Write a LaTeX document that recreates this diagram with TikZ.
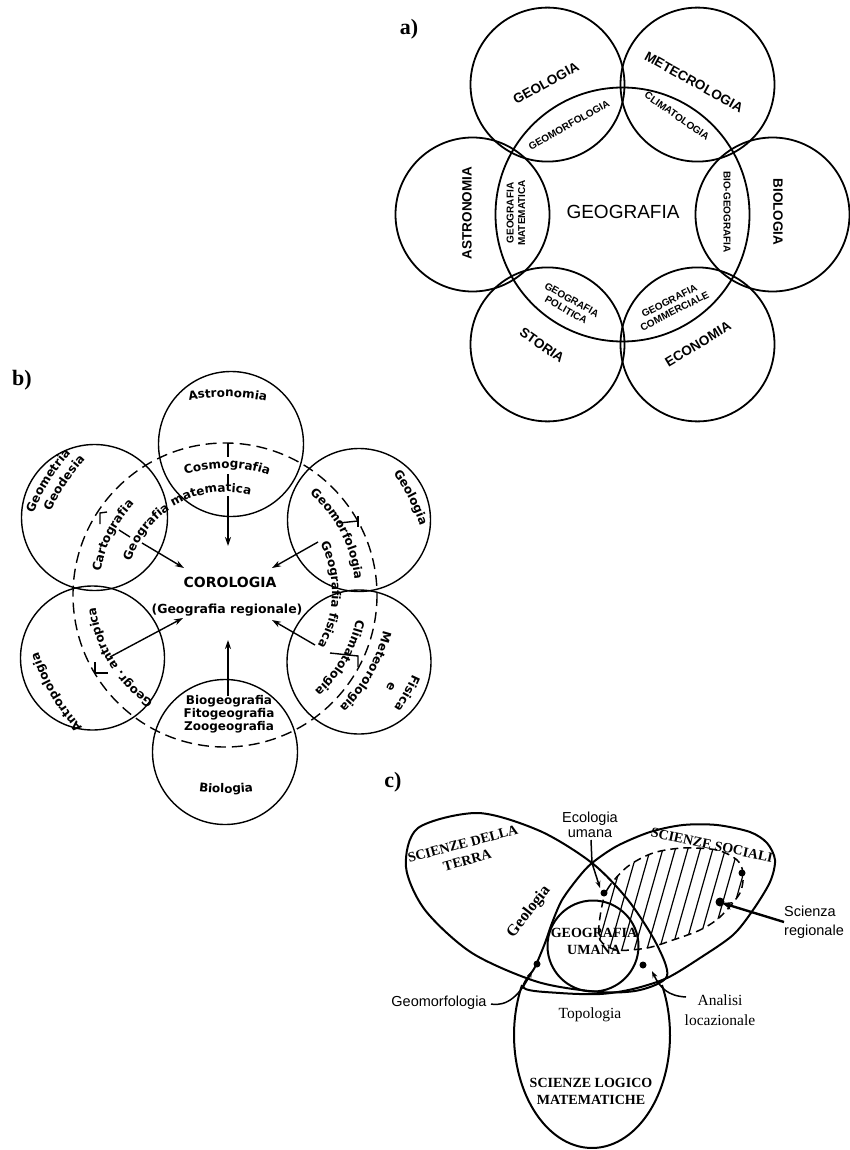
\documentclass[tikz,border=0pt]{standalone}
\usepackage{fontspec}
\setmainfont{Liberation Serif}
\newfontfamily\arialf{Liberation Sans}
\newfontfamily\dejaf{DejaVu Sans}
\newfontfamily\timesf{Liberation Serif}
\usetikzlibrary{decorations.text,arrows.meta,calc}
\newcommand\fsz[1]{\fontsize{#1}{#1}\selectfont}
% clockwise label (reads clockwise, tops outward): center, radius, mid angle, half span, font, text
\newcommand\cwlabel[6]{%
  \path[decorate,decoration={text along path,text align=center,text={|#5|#6}}]
    ($(#1)+({#3-#4}:#2)$) arc[start angle={#3-#4}, end angle={#3+#4}, radius=#2];}
\newcommand\ccwlabel[6]{%
  \path[decorate,decoration={text along path,text align=center,text={|#5|#6}}]
    ($(#1)+({#3+#4}:#2)$) arc[start angle={#3+#4}, end angle={#3-#4}, radius=#2];}
\tikzset{
  acirc/.style={line width=1.8pt},
  aout/.style={font=\arialf\bfseries\fsz{13.5}, inner sep=0},
  ain/.style={font=\arialf\bfseries\fontsize{10}{11.5}\selectfont, inner sep=0, align=center},
  amain/.style={font=\arialf\fsz{19}, inner sep=0},
  panel/.style={font=\timesf\bfseries\fsz{22}, inner sep=0},
  bcirc/.style={line width=1.4pt},
  bdash/.style={line width=1.4pt, dash pattern=on 11pt off 6pt},
  bline/.style={line width=1.4pt},
  barr/.style={line width=1.4pt, -{Stealth[length=9pt,width=6pt]}},
  btxt/.style={font=\dejaf\bfseries\fsz{12}, inner sep=0},
  cline/.style={line width=2pt},
  csc/.style={font=\timesf\bfseries\fontsize{14}{17}\selectfont, inner sep=0, align=center},
  cser/.style={font=\timesf\fontsize{15.5}{20}\selectfont, inner sep=0, align=center},
  csans/.style={font=\arialf\fontsize{14.5}{15}\selectfont, inner sep=0},
  clead/.style={line width=1.5pt, -{Stealth[length=7pt,width=5pt]}},
}
\begin{document}
\begin{tikzpicture}[x=1pt,y=-1pt]
\fill[white] (0,0) rectangle (849,1150);
\useasboundingbox (0,0) rectangle (849,1150);

%================ a) ================
\node[panel] (la) at (409,29) {a)};
\coordinate (A0) at (622.5,214.5);
\draw[acirc] (A0) circle[radius=127];
\foreach \ang in {-120,-60,0,60,120,180}
  \draw[acirc] ($(A0)+(\ang:150)$) circle[radius=77];
\node[amain] (ageo) at (623,212) {GEOGRAFIA};
\node[aout, rotate=29] (ageol) at (546,83) {GEOLOGIA};
\node[aout, rotate=-29] (amet) at (694,82) {METECROLOGIA};
\node[aout, rotate=90] (aast) at (467,213) {ASTRONOMIA};
\node[aout, rotate=-90] (abio) at (778,212) {BIOLOGIA};
\node[aout, rotate=-35] (asto) at (542,345) {STORIA};
\node[aout, rotate=31] (aeco) at (698,344) {ECONOMIA};
\node[ain, rotate=29.5] (agm) at (569,125) {GEOMORFOLOGIA};
\node[ain, rotate=-35] (acl) at (677,116) {CLIMATOLOGIA};
\node[ain, rotate=90] (amat) at (516,213) {GEOGRAFIA\\MATEMATICA};
\node[ain, rotate=-90] (abg) at (727,212) {BIO-GEOGRAFIA};
\node[ain, rotate=-29.5] (apol) at (569,305) {GEOGRAFIA\\POLITICA};
\node[ain, rotate=27] (acom) at (672,306) {GEOGRAFIA\\COMMERCIALE};

%================ b) ================
\node[panel] (lb) at (22,380) {b)};
\coordinate (B0) at (226,592);
\draw[bcirc] (231,444) circle[radius=72.5];
\draw[bcirc] (359,520) circle[radius=71.5];
\draw[bcirc] (359,662) circle[radius=72];
\draw[bcirc] (225,752) circle[radius=72.5];
\draw[bcirc] (92.5,658) circle[radius=72];
\draw[bcirc] (94.5,517.5) circle[radius=73];
\draw[bdash] (225,595) circle[radius=152];

% outer labels
\cwlabel{B0}{195}{-89.5}{30}{\dejaf\bfseries\fsz{12}}{Astronomia}
\cwlabel{B0}{208}{-148}{30}{\dejaf\bfseries\fsz{12}}{Geometria}
\cwlabel{B0}{193}{-146}{30}{\dejaf\bfseries\fsz{12}}{Geodesia}
\cwlabel{B0}{205}{-27}{30}{\dejaf\bfseries\fsz{12}}{Geologia}
\cwlabel{B0}{204}{29.2}{30}{\dejaf\bfseries\fsz{12}}{Fisica}
\cwlabel{B0}{187}{30}{30}{\dejaf\bfseries\fsz{12}}{e}
\cwlabel{B0}{162}{29.7}{35}{\dejaf\bfseries\fsz{12}}{Meteorologia}
\cwlabel{B0}{197}{149.5}{30}{\dejaf\bfseries\fsz{12}}{Antropologia}
\ccwlabel{B0}{201}{90}{30}{\dejaf\bfseries\fsz{12}}{Biologia}
% inner labels
\cwlabel{B0}{124}{-89.5}{45}{\dejaf\bfseries\fsz{12}}{Cosmografia}
\cwlabel{B0}{100}{-119}{65}{\dejaf\bfseries\fsz{12}}{Geografia matematica}
\cwlabel{B0}{127}{-153.5}{45}{\dejaf\bfseries\fsz{12}}{Cartografia}
\cwlabel{B0}{129}{-27.5}{45}{\dejaf\bfseries\fsz{12}}{Geomorfologia}
\cwlabel{B0}{106}{1.5}{60}{\dejaf\bfseries\fsz{12}}{Geografia fisica}
\cwlabel{B0}{133}{30}{45}{\dejaf\bfseries\fsz{12}}{Climatologia}
\cwlabel{B0}{131}{148.5}{50}{\dejaf\bfseries\fsz{12}}{Geogr. antropica}

\node[btxt, font=\dejaf\bfseries\fsz{14}] (coro) at (230,582) {COROLOGIA};
\node[btxt, font=\dejaf\bfseries\fsz{12.5}] (greg) at (227,610) {(Geografia regionale)};
\node[btxt, align=center, font=\dejaf\bfseries\fontsize{12}{13}\selectfont] (biog) at (229,714) {Biogeografia\\Fitogeografia\\Zoogeografia};

% arrows
\coordinate (t0) at (228,443); \coordinate (t1) at (228,457);
\coordinate (t2) at (228,474); \coordinate (t3) at (228,483);
\coordinate (t4) at (228,496); \coordinate (t5) at (228,546);
\draw[bline] (t0) -- (t1);
\draw[bline] (t2) -- (t3);
\draw[barr] (t4) -- (t5);
\coordinate (ul0) at (142,543); \coordinate (ul1) at (184,568);
\coordinate (ur0) at (318,542); \coordinate (ur1) at (272,568);
\coordinate (ll0) at (110,657); \coordinate (ll1) at (183,618);
\coordinate (lr0) at (315,645); \coordinate (lr1) at (272,620);
\coordinate (bt0) at (228,696); \coordinate (bt1) at (228,640);
\draw[barr] (ul0) -- (ul1);
\draw[barr] (ur0) -- (ur1);
\draw[barr] (ll0) -- (ll1);
\draw[barr] (lr0) -- (lr1);
\draw[barr] (bt0) -- (bt1);
% brackets
\draw[bline] (107,512) -- (100,513) -- (100,524);
\draw[bline] (119,530) -- (130,537);
\draw[bline] (339,523) -- (358,521);
\draw[bline] (358,516) -- (358,527);
\draw[bline] (330,653) -- (358,656) -- (358,667);
\draw[bline] (95,662) -- (95,673) -- (108,673);

%================ c) ================
\node[panel] (lc) at (393,782) {c)};
% hatched region
\begin{scope}
\clip plot[smooth cycle] coordinates {(600,917) (607,890) (627,867) (653,853) (683,848) (717,850) (737,860) (743,873) (740,893) (720,917) (700,930) (673,940) (647,948) (617,950) (600,940)};
\foreach \i in {0,...,16}
  \draw[line width=1.2pt] ({555+12.5*\i},965) -- ({589+12.5*\i},845);
\end{scope}
\draw[line width=1.5pt, dash pattern=on 8pt off 5pt] plot[smooth cycle] coordinates {(600,917) (607,890) (627,867) (653,853) (683,848) (717,850) (737,860) (743,873) (740,893) (720,917) (700,930) (673,940) (647,948) (617,950) (600,940)};

% Scienze della Terra
\draw[cline] plot[smooth cycle] coordinates {(406,867) (418,828) (478,813) (540,831) (592,863) (628,900) (656,943) (667,976) (640,990) (600,992) (538,982) (472,953) (425,910)};
% Scienze sociali
\draw[cline] plot[smooth cycle] coordinates {(592,863) (617,846) (650,832) (683,825) (717,825) (750,832) (767,843) (775,860) (770,882) (753,910) (733,935) (700,958) (667,978) (633,989) (600,994) (560,993) (524,988) (535,967) (545,943) (552,923) (562,900) (578,878)};
% Scienze logico matematiche
\draw[cline] plot[domain=-26.3:206.3, samples=80] ({592+78*cos(\x)},{1035+113*sin(\x)});
% Geografia umana
\draw[cline] (593,946) circle[radius=45.5];

\node[csc, rotate=15] (terra) at (465,852) {SCIENZE DELLA\\TERRA};
\node[csc, rotate=-12] (soc) at (712,845) {SCIENZE SOCIALI};
\node[csc] (umana) at (594,941) {GEOGRAFIA\\UMANA};
\node[csc] (logmat) at (591,1091) {SCIENZE LOGICO\\MATEMATICHE};
\node[font=\timesf\bfseries\fsz{16}, inner sep=0, rotate=52] (geol) at (529,912) {Geologia};
\node[cser] (topo) at (590,1015) {Topologia};
\node[cser] (anal) at (720,1010) {Analisi\\locazionale};
\node[csans, align=center, font=\arialf\fontsize{14.5}{15}\selectfont] (eco) at (590,825) {Ecologia\\umana};
\node[csans, align=left, font=\arialf\fontsize{14.5}{19}\selectfont] (sreg) at (814,922) {Scienza\\regionale};
\node[csans] (gmorf) at (439,1003) {Geomorfologia};

% dots
\fill (537,964) circle[radius=3.5];
\fill (643,965) circle[radius=3.5];
\fill (604,893) circle[radius=3.5];
\fill (742,873) circle[radius=3.5];
\fill (720,902) circle[radius=4.5];

% leaders
\coordinate (ecoA) at (591,840); \coordinate (ecoB) at (592,863); \coordinate (ecoC) at (600,888);
\draw[clead] (ecoA) -- (ecoB) -- (ecoC);
\coordinate (srA) at (784,922); \coordinate (srB) at (722,903);
\draw[line width=2.4pt, -{Stealth[length=10pt,width=8pt]}] (srA) -- (srB);
\coordinate (gmA) at (491,1004); \coordinate (gmB) at (532,971);
\draw[clead] (gmA) .. controls (507,1007) and (520,995) .. (gmB);
\coordinate (anA) at (686,997); \coordinate (anB) at (652,971);
\draw[clead] (anA) .. controls (668,996) and (660,988) .. (anB);
\end{tikzpicture}
\end{document}
